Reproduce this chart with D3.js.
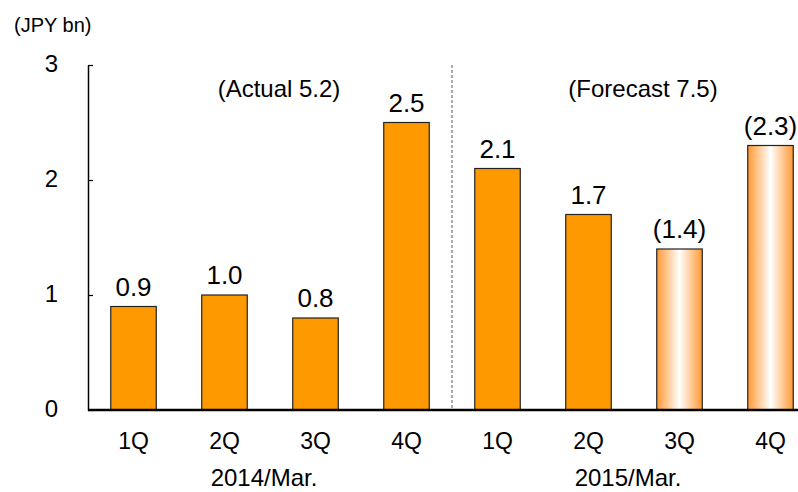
<!DOCTYPE html>
<html>
<head>
<meta charset="utf-8">
<script src="https://cdn.jsdelivr.net/npm/d3@7"></script>
<style>
  body { margin: 0; background: #fff; }
  svg text { font-family: "Liberation Sans", Arial, sans-serif; fill: #000; }
</style>
</head>
<body>
<svg id="chart" width="798" height="492"></svg>
<script>
// Quarterly operating figures (JPY bn)
const quarters = ["1Q", "2Q", "3Q", "4Q", "1Q", "2Q", "3Q", "4Q"];
const fiscalYears = ["2014/Mar.", "2014/Mar.", "2014/Mar.", "2014/Mar.",
                     "2015/Mar.", "2015/Mar.", "2015/Mar.", "2015/Mar."];
const values = [0.9, 1.0, 0.8, 2.5, 2.1, 1.7, 1.4, 2.3];
const isForecast = [false, false, false, false, false, false, true, true];
const valueLabels = ["0.9", "1.0", "0.8", "2.5", "2.1", "1.7", "(1.4)", "(2.3)"];
const yTicks = [0, 1, 2, 3];
const groupNames = ["2014/Mar.", "2015/Mar."];
const groupNotes = ["(Actual 5.2)", "(Forecast 7.5)"];

const svg = d3.select("#chart");
const plotLeft = 88, plotTop = 65, plotBottom = 410;

const x = d3.scaleBand()
  .domain(d3.range(values.length))
  .range([plotLeft, 816])
  .paddingInner(0.5)
  .paddingOuter(0.25);

const y = d3.scaleLinear().domain([0, 3]).range([plotBottom, plotTop]);

// Gradient for forecast bars: orange edges fading to white in the middle
const defs = svg.append("defs");
const grad = defs.append("linearGradient")
  .attr("id", "forecastFill")
  .attr("x1", "0%").attr("x2", "100%").attr("y1", "0%").attr("y2", "0%");
grad.append("stop").attr("offset", "0%").attr("stop-color", "#ff9933");
grad.append("stop").attr("offset", "50%").attr("stop-color", "#ffffff");
grad.append("stop").attr("offset", "100%").attr("stop-color", "#ff9933");

// Bars
svg.append("g").selectAll("rect")
  .data(values)
  .join("rect")
  .attr("x", (d, i) => x(i))
  .attr("y", d => y(d))
  .attr("width", x.bandwidth())
  .attr("height", d => y(0) - y(d))
  .attr("fill", (d, i) => isForecast[i] ? "url(#forecastFill)" : "#ff9900")
  .attr("stroke", "#222")
  .attr("stroke-width", 1.2);

// Value labels
svg.append("g").selectAll("text")
  .data(values)
  .join("text")
  .attr("x", (d, i) => x(i) + x.bandwidth() / 2)
  .attr("y", d => y(d) - 11)
  .attr("text-anchor", "middle")
  .attr("font-size", 26)
  .text((d, i) => valueLabels[i]);

// Y axis with inward ticks
const yAxis = d3.axisLeft(y).tickValues(yTicks).tickSizeInner(-5).tickSizeOuter(0).tickFormat("");
const gy = svg.append("g").attr("transform", `translate(${plotLeft},0)`).call(yAxis);
gy.select(".domain").attr("stroke", "#000").attr("stroke-width", 1.5);
gy.selectAll(".tick line").attr("stroke", "#000").attr("stroke-width", 1.2);

svg.append("g").selectAll("text")
  .data(yTicks)
  .join("text")
  .attr("x", 58)
  .attr("y", d => y(d) - 1)
  .attr("dy", "0.35em")
  .attr("text-anchor", "end")
  .attr("font-size", 24)
  .text(d => d);

// X axis baseline
svg.append("line")
  .attr("x1", plotLeft).attr("x2", 798)
  .attr("y1", y(0)).attr("y2", y(0))
  .attr("stroke", "#000").attr("stroke-width", 2.5);

// Quarter labels
svg.append("g").selectAll("text")
  .data(quarters)
  .join("text")
  .attr("x", (d, i) => x(i) + x.bandwidth() / 2)
  .attr("y", 449)
  .attr("text-anchor", "middle")
  .attr("font-size", 23)
  .text(d => d);

// Fiscal year labels and notes, centred over each group of quarters
const step = x.step();
groupNames.forEach((g, gi) => {
  const idx = fiscalYears.map((f, i) => f === g ? i : -1).filter(i => i >= 0);
  const cx = (x(idx[0]) + x(idx[idx.length - 1]) + x.bandwidth()) / 2;
  svg.append("text")
    .attr("x", cx - 6)
    .attr("y", 486)
    .attr("text-anchor", "middle")
    .attr("font-size", 24)
    .text(g);
  svg.append("text")
    .attr("x", cx + 9)
    .attr("y", 97)
    .attr("text-anchor", "middle")
    .attr("font-size", 24)
    .text(groupNotes[gi]);
});

// Dashed divider between fiscal years
const divX = x(3) + x.bandwidth() + (step - x.bandwidth()) / 2;
svg.append("line")
  .attr("x1", divX).attr("x2", divX)
  .attr("y1", plotTop).attr("y2", y(0))
  .attr("stroke", "#555").attr("stroke-width", 1)
  .attr("stroke-dasharray", "3,2");

// Unit label
svg.append("text")
  .attr("x", 14)
  .attr("y", 32)
  .attr("font-size", 20)
  .text("(JPY bn)");
</script>
</body>
</html>
